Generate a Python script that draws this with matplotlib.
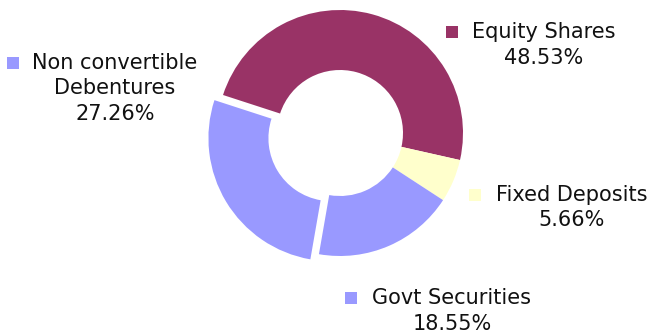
import matplotlib.pyplot as plt

labels = ['Equity Shares', 'Fixed Deposits', 'Govt Securities', 'Non convertible\nDebentures']
values = [48.53, 5.66, 18.55, 27.26]
colors = ['#993366', '#FFFFCC', '#9999FF', '#9999FF']
explode = [0, 0, 0, 10]

# label anchors in pixel coords (x of square, y of first line from top, text centre x)
label_pos = [(452, 32, 544), (475, 195, 572), (351, 298, 452), (13, 63, 115)]

W, H = 651, 334
fig = plt.figure(figsize=(W / 100, H / 100), dpi=100)
ax = fig.add_axes([0, 0, 1, 1])

ax.pie(values, colors=colors, explode=explode, startangle=162, counterclock=False,
       center=(340, H - 133), radius=123, frame=True,
       wedgeprops=dict(width=60, linewidth=0))
ax.set_xlim(0, W)
ax.set_ylim(0, H)
ax.set_aspect('equal')
ax.axis('off')

fs = 15
for lab, val, col, (sx, sy, cx) in zip(labels, values, colors, label_pos):
    ax.scatter([sx], [H - sy], marker='s', s=80, color=col, linewidths=0)
    lines = lab.split('\n') + ['%.2f%%' % val]
    for i, ln in enumerate(lines):
        ax.text(cx, H - sy - i * 25.5, ln, ha='center', va='center', fontsize=fs,
                color='#111111', family='DejaVu Sans')

fig.savefig('out.png', dpi=100)
